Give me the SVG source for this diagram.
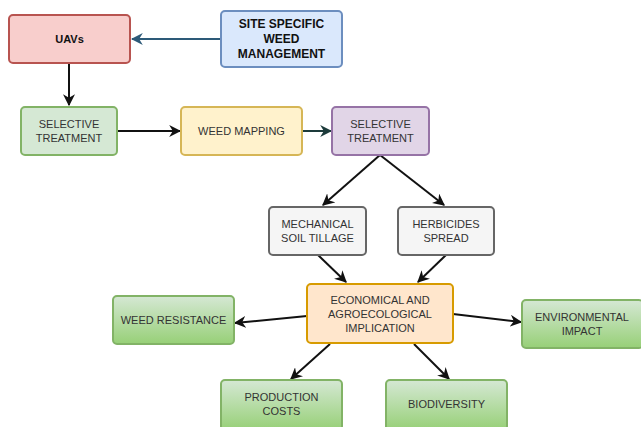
<svg xmlns="http://www.w3.org/2000/svg" width="641" height="427" viewBox="0 0 641 427">
<style>
text{font-family:"Liberation Sans",Arial,sans-serif;font-size:11px;fill:#333;text-anchor:middle}
.b{font-weight:bold;font-size:12px;fill:#111}
rect{stroke-width:2}
.c line{stroke:#111;stroke-width:2;marker-end:url(#ah)}
</style>
<defs>
<linearGradient id="g" x1="0" y1="0" x2="0" y2="1"><stop offset="0" stop-color="#d5e8d4"/><stop offset="1" stop-color="#97d077"/></linearGradient>
<marker id="ah" viewBox="0 0 10 10" refX="9" refY="5" markerWidth="6" markerHeight="6" orient="auto" markerUnits="strokeWidth"><path d="M0,0 L10,5 L0,10 L3,5 Z" fill="#111"/></marker>
<marker id="ahb" viewBox="0 0 10 10" refX="9" refY="5" markerWidth="6" markerHeight="6" orient="auto" markerUnits="strokeWidth"><path d="M0,0 L10,5 L0,10 L3,5 Z" fill="#2d5a78"/></marker>
<marker id="aht" viewBox="0 0 10 10" refX="9" refY="5" markerWidth="6" markerHeight="6" orient="auto" markerUnits="strokeWidth"><path d="M0,0 L10,5 L0,10 L3,5 Z" fill="#1d3b3b"/></marker>
</defs>
<rect width="641" height="427" fill="#fff" stroke="none"/>
<g class="c" id="connectors">
<line x1="221" y1="39" x2="132" y2="39" style="stroke:#2d5a78;marker-end:url(#ahb)"/>
<line x1="69" y1="63" x2="69" y2="105"/>
<line x1="117" y1="131" x2="180" y2="131"/>
<line x1="302" y1="131" x2="331" y2="131" style="stroke:#1d3b3b;marker-end:url(#aht)"/>
<line x1="380" y1="155" x2="323" y2="205"/>
<line x1="380" y1="155" x2="444" y2="205"/>
<line x1="318" y1="255" x2="346" y2="282"/>
<line x1="446" y1="255" x2="418" y2="282"/>
<line x1="307" y1="316" x2="235" y2="323"/>
<line x1="453" y1="314" x2="521" y2="322"/>
<line x1="330" y1="344" x2="291" y2="379"/>
<line x1="414" y1="344" x2="449" y2="379"/>
</g>
<g id="uavs"><rect x="9" y="15" width="121" height="48" rx="4" fill="#f8cecc" stroke="#b85450"/><text class="b" x="69.5" y="43" style="font-size:11px">UAVs</text></g>
<g id="sswm"><rect x="221" y="11" width="121" height="56" rx="4" fill="#dae8fc" stroke="#6c8ebf"/><text class="b" x="281.5" y="28">SITE SPECIFIC</text><text class="b" x="281.5" y="43">WEED</text><text class="b" x="281.5" y="58">MANAGEMENT</text></g>
<g id="sel1"><rect x="21" y="107" width="96" height="48" rx="4" fill="#d5e8d4" stroke="#82b366"/><text x="69" y="128">SELECTIVE</text><text x="69" y="142">TREATMENT</text></g>
<g id="mapping"><rect x="181" y="107" width="121" height="48" rx="4" fill="#fff2cc" stroke="#d6b656"/><text x="241.5" y="135">WEED MAPPING</text></g>
<g id="sel2"><rect x="332" y="107" width="97" height="48" rx="4" fill="#e1d5e7" stroke="#9673a6"/><text x="380.5" y="128">SELECTIVE</text><text x="380.5" y="142">TREATMENT</text></g>
<g id="mech"><rect x="269" y="207" width="97" height="48" rx="4" fill="#f5f5f5" stroke="#666"/><text x="317.5" y="228">MECHANICAL</text><text x="317.5" y="242">SOIL TILLAGE</text></g>
<g id="herb"><rect x="398" y="207" width="96" height="48" rx="4" fill="#f5f5f5" stroke="#666"/><text x="446" y="228">HERBICIDES</text><text x="446" y="242">SPREAD</text></g>
<g id="econ"><rect x="307" y="284" width="146" height="59" rx="4" fill="#ffe6cc" stroke="#d79b00" stroke-width="2.5"/><text x="380" y="304">ECONOMICAL AND</text><text x="380" y="318">AGROECOLOGICAL</text><text x="380" y="332">IMPLICATION</text></g>
<g id="resist"><rect x="113" y="296" width="121" height="48" rx="4" fill="url(#g)" stroke="#82b366"/><text x="173.5" y="324">WEED RESISTANCE</text></g>
<g id="env"><rect x="522" y="300" width="121" height="48" rx="4" fill="url(#g)" stroke="#82b366"/><text x="582" y="321">ENVIRONMENTAL</text><text x="582" y="335">IMPACT</text></g>
<g id="prod"><rect x="221" y="380" width="121" height="50" rx="4" fill="url(#g)" stroke="#82b366"/><text x="281.5" y="401">PRODUCTION</text><text x="281.5" y="415">COSTS</text></g>
<g id="bio"><rect x="386" y="380" width="121" height="50" rx="4" fill="url(#g)" stroke="#82b366"/><text x="446.5" y="408">BIODIVERSITY</text></g>
</svg>
